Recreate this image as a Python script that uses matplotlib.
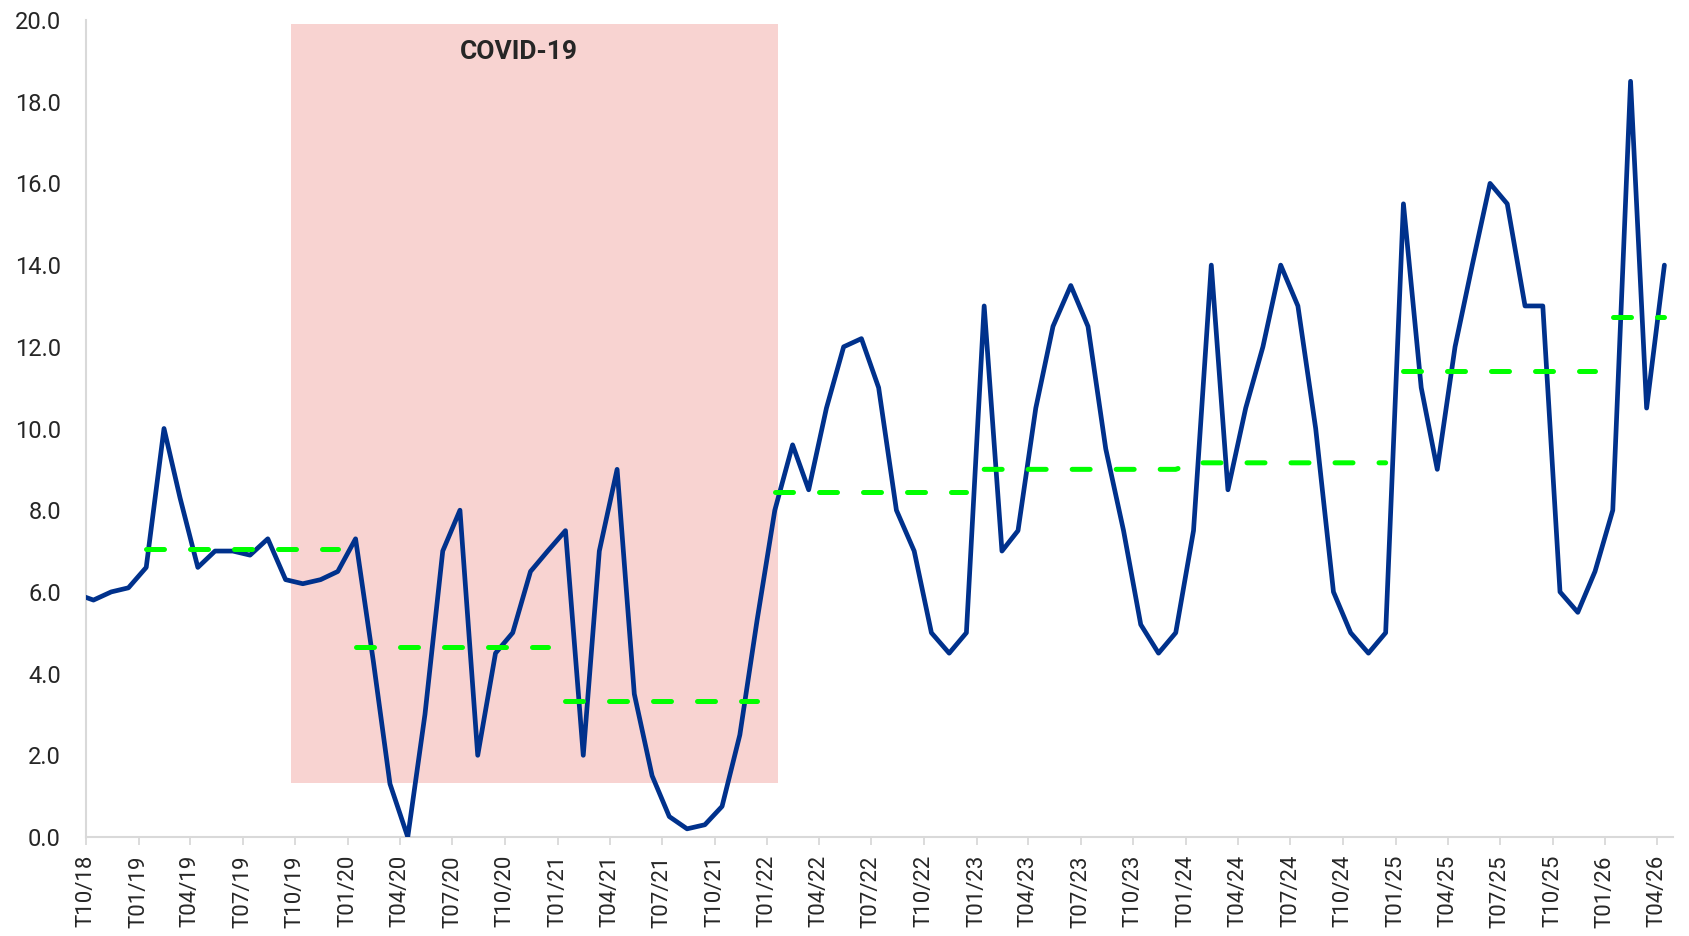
import pandas as pd
import matplotlib
matplotlib.use("Agg")
import matplotlib.pyplot as plt
import matplotlib.dates as mdates

# monthly series; the Sep 2018 value sits just left of the axis and gets clipped
y2018 = [5.95, 5.8, 6.0, 6.1]  # Sep..Dec
y2019 = [6.6, 10.0, 8.3, 6.6, 7.0, 7.0, 6.9, 7.3, 6.3, 6.2, 6.3, 6.5]
y2020 = [7.3, 4.3, 1.3, 0.0, 3.0, 7.0, 8.0, 2.0, 4.5, 5.0, 6.5, 7.0]
y2021 = [7.5, 2.0, 7.0, 9.0, 3.5, 1.5, 0.5, 0.2, 0.3, 0.75, 2.5, 5.3]
y2022 = [8.0, 9.6, 8.5, 10.5, 12.0, 12.2, 11.0, 8.0, 7.0, 5.0, 4.5, 5.0]
y2023 = [13.0, 7.0, 7.5, 10.5, 12.5, 13.5, 12.5, 9.5, 7.5, 5.2, 4.5, 5.0]
y2024 = [7.5, 14.0, 8.5, 10.5, 12.0, 14.0, 13.0, 10.0, 6.0, 5.0, 4.5, 5.0]
y2025 = [15.5, 11.0, 9.0, 12.0, 14.0, 16.0, 15.5, 13.0, 13.0, 6.0, 5.5, 6.5]
y2026 = [8.0, 18.5, 10.5, 14.0]  # Jan..Apr

# yearly averages (green dashed)
avg_years = [2019, 2020, 2021, 2022, 2023, 2024, 2025, 2026]
avg_values = [7.05, 4.65, 3.33, 8.44, 9.0, 9.16, 11.4, 12.72]
# 2023 and 2024 are joined in the source chart, the rest have gaps
avg_groups = [[2019], [2020], [2021], [2022], [2023, 2024], [2025], [2026]]

covid_start, covid_end = "2019-09-24", "2022-01-20"
covid_low, covid_high = 1.32, 19.9

values = y2018 + y2019 + y2020 + y2021 + y2022 + y2023 + y2024 + y2025 + y2026
dates = pd.date_range("2018-09-01", periods=len(values), freq="MS") + pd.Timedelta(days=13)
series = pd.Series(values, index=dates)
avg_map = dict(zip(avg_years, avg_values))

plt.rcParams["font.family"] = ["Roboto", "DejaVu Sans"]
text_color = "#262626"
axis_color = "#d9d9d9"

fig = plt.figure(figsize=(16.9, 9.36), dpi=100)
ax = fig.add_axes([86 / 1690, 99 / 936, (1673 - 86) / 1690, 817 / 936])

ax.fill_between(pd.to_datetime([covid_start, covid_end]), covid_low, covid_high,
                color="#f8d3d1", lw=0, zorder=0)
ax.text(pd.Timestamp("2020-10-25"), 19.21, "COVID-19", ha="center", va="center",
        fontsize=19, fontweight="bold", color=text_color)

ax.plot(series.index, series.values, color="#00318c", lw=3.4, zorder=3,
        solid_joinstyle="round", solid_capstyle="round")

for group in avg_groups:
    seg = series[series.index.year.isin(group)]
    seg_vals = [avg_map[d.year] for d in seg.index]
    ax.plot(seg.index, seg_vals, color="#00ff00", lw=3.6, zorder=4,
            dashes=(3.6, 5.2), dash_capstyle="round")

ax.set_xlim(pd.Timestamp("2018-10-01"), pd.Timestamp("2026-04-29"))
ax.set_ylim(0, 20)
ax.set_yticks(range(0, 21, 2))
ax.yaxis.set_major_formatter(matplotlib.ticker.FormatStrFormatter("%.1f"))

ax.xaxis.set_major_locator(mdates.MonthLocator(bymonth=[1, 4, 7, 10]))
ax.xaxis.set_major_formatter(mdates.DateFormatter("T%m/%y"))
plt.setp(ax.get_xticklabels(), rotation=90, ha="center", va="top")

ax.tick_params(axis="x", length=6, width=1.3, color=axis_color, pad=7,
               labelsize=16, labelcolor=text_color)
ax.tick_params(axis="y", length=0, pad=18, labelsize=17, labelcolor=text_color)

for side in ["top", "right"]:
    ax.spines[side].set_visible(False)
for side in ["left", "bottom"]:
    ax.spines[side].set_color(axis_color)
    ax.spines[side].set_linewidth(1.5)

fig.savefig("out.png", dpi=100)
